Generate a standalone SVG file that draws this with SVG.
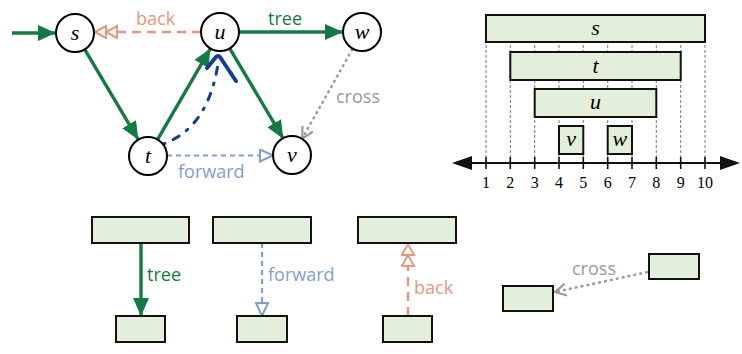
<svg xmlns="http://www.w3.org/2000/svg" width="742" height="354" viewBox="0 0 742 354">
<style>
.node circle{fill:#fff;stroke:#000;stroke-width:2}
.nl{font-family:"Liberation Serif","DejaVu Serif",serif;font-style:italic;font-size:22px;text-anchor:middle}
.lab{font-family:"Open Sans","Noto Sans",sans-serif;font-size:18px}
.tree{stroke:#147a45;stroke-width:3.4;fill:none}
.back{stroke:#e8967c;stroke-width:2.4;fill:none;stroke-dasharray:9 6}
.fwd{stroke:#7f9fcf;stroke-width:2.2;fill:none;stroke-dasharray:5 4}
.cross{stroke:#9a9a9a;stroke-width:2.4;fill:none;stroke-dasharray:3 3}
.box{fill:#e3eedb;stroke:#111;stroke-width:2}
.vl{stroke:#777;stroke-width:1;stroke-dasharray:3 2}
.tk{font-family:"Liberation Serif","DejaVu Serif",serif;font-size:16px;text-anchor:middle}
</style>
<defs>
<marker id="mt" markerUnits="userSpaceOnUse" markerWidth="19" markerHeight="16" refX="18" refY="8" orient="auto"><path d="M0,0 L18,8 L0,16 z" fill="#147a45"/></marker>
<marker id="mb" markerUnits="userSpaceOnUse" markerWidth="26" markerHeight="16" refX="24" refY="7" orient="auto"><path d="M1,1 L12,7 L1,13 z M12,1 L23,7 L12,13 z" fill="#fff" stroke="#e8967c" stroke-width="2"/></marker>
<marker id="mf" markerUnits="userSpaceOnUse" markerWidth="16" markerHeight="16" refX="14" refY="7" orient="auto"><path d="M1,1 L14,7 L1,13 z" fill="#fff" stroke="#7f9fcf" stroke-width="2"/></marker>
<marker id="mc" markerUnits="userSpaceOnUse" markerWidth="16" markerHeight="16" refX="12" refY="7" orient="auto"><path d="M1,1 L12,7 L1,13" fill="none" stroke="#9a9a9a" stroke-width="2.2"/></marker>
</defs>

<g id="connectors">
<line class="tree" x1="12" y1="33" x2="56" y2="33" marker-end="url(#mt)"/>
<line class="back" x1="201" y1="32" x2="94" y2="32" marker-end="url(#mb)"/>
<line class="tree" x1="239" y1="32" x2="343" y2="32" marker-end="url(#mt)"/>
<line class="tree" x1="84.7" y1="49.3" x2="138.3" y2="139.7" marker-end="url(#mt)"/>
<line class="tree" x1="157.5" y1="139.6" x2="210.5" y2="48.4" marker-end="url(#mt)"/>
<line class="tree" x1="229.7" y1="48.3" x2="283.3" y2="138.7" marker-end="url(#mt)"/>
<line class="cross" x1="352.7" y1="48.6" x2="302.3" y2="138.4" marker-end="url(#mc)"/>
<line class="fwd" x1="167" y1="155.5" x2="273" y2="155.5" marker-end="url(#mf)"/>
<path d="M163,144 Q208,128 218,64" fill="none" stroke="#123f8f" stroke-width="3" stroke-linecap="round" stroke-dasharray="2 9 7 9"/>
<path d="M207,68 L216,57 Q218,55 220,57 L236,81" fill="none" stroke="#123f8f" stroke-width="4" stroke-linecap="round" stroke-linejoin="round"/>
<text class="lab" x="136" y="25" fill="#e8967c">back</text>
<text class="lab" x="268" y="25" fill="#147a45">tree</text>
<text class="lab" x="336" y="103" fill="#9a9a9a">cross</text>
<text class="lab" x="178" y="178" fill="#7f9fcf">forward</text>

<line class="tree" x1="141" y1="243" x2="141" y2="316" marker-end="url(#mt)"/>
<text class="lab" x="147" y="281" fill="#147a45">tree</text>
<line class="fwd" x1="262" y1="243" x2="262" y2="316" marker-end="url(#mf)"/>
<text class="lab" x="268" y="281" fill="#7f9fcf">forward</text>
<line class="back" x1="408" y1="316" x2="408" y2="243" marker-end="url(#mb)"/>
<text class="lab" x="414" y="294" fill="#e8967c">back</text>
<line class="cross" x1="648" y1="272" x2="555" y2="292" marker-end="url(#mc)"/>
<text class="lab" x="572" y="275" fill="#9a9a9a">cross</text>
</g>

<g id="node-s" class="node"><circle cx="75" cy="33" r="19"/><text class="nl" x="75" y="40">s</text></g>
<g id="node-u" class="node"><circle cx="220" cy="32" r="19"/><text class="nl" x="220" y="39">u</text></g>
<g id="node-w" class="node"><circle cx="362" cy="32" r="19"/><text class="nl" x="362" y="39">w</text></g>
<g id="node-t" class="node"><circle cx="148" cy="156" r="19"/><text class="nl" x="148" y="163">t</text></g>
<g id="node-v" class="node"><circle cx="292" cy="155" r="19"/><text class="nl" x="292" y="162">v</text></g>

<g id="intervals">
<g id="guides">
<line class="vl" x1="486" y1="15" x2="486" y2="163"/>
<line class="vl" x1="510.3" y1="15" x2="510.3" y2="163"/>
<line class="vl" x1="534.7" y1="15" x2="534.7" y2="163"/>
<line class="vl" x1="559" y1="15" x2="559" y2="163"/>
<line class="vl" x1="583.3" y1="15" x2="583.3" y2="163"/>
<line class="vl" x1="607.7" y1="15" x2="607.7" y2="163"/>
<line class="vl" x1="632" y1="15" x2="632" y2="163"/>
<line class="vl" x1="656.3" y1="15" x2="656.3" y2="163"/>
<line class="vl" x1="680.7" y1="15" x2="680.7" y2="163"/>
<line class="vl" x1="705" y1="15" x2="705" y2="163"/>
</g>
<g id="int-s"><rect class="box" x="486" y="15" width="219" height="27"/><text class="nl" x="595.5" y="35">s</text></g>
<g id="int-t"><rect class="box" x="510.3" y="52" width="170.4" height="28"/><text class="nl" x="595.5" y="73">t</text></g>
<g id="int-u"><rect class="box" x="534.7" y="89" width="121.6" height="28"/><text class="nl" x="595.5" y="109">u</text></g>
<g id="int-v"><rect class="box" x="559" y="126" width="24.3" height="28"/><text class="nl" x="571.2" y="146">v</text></g>
<g id="int-w"><rect class="box" x="607.7" y="126" width="24.3" height="28"/><text class="nl" x="619.8" y="146">w</text></g>
<g id="axis">
<line x1="470" y1="163" x2="720" y2="163" stroke="#111" stroke-width="2.2"/>
<path d="M452,163 L472,156 L472,170 z" fill="#111"/>
<path d="M740,163 L720,156 L720,170 z" fill="#111"/>
<g stroke="#111" stroke-width="1.6">
<line x1="486" y1="157" x2="486" y2="169"/>
<line x1="510.3" y1="157" x2="510.3" y2="169"/>
<line x1="534.7" y1="157" x2="534.7" y2="169"/>
<line x1="559" y1="157" x2="559" y2="169"/>
<line x1="583.3" y1="157" x2="583.3" y2="169"/>
<line x1="607.7" y1="157" x2="607.7" y2="169"/>
<line x1="632" y1="157" x2="632" y2="169"/>
<line x1="656.3" y1="157" x2="656.3" y2="169"/>
<line x1="680.7" y1="157" x2="680.7" y2="169"/>
<line x1="705" y1="157" x2="705" y2="169"/>
</g>
<text class="tk" x="486" y="188">1</text>
<text class="tk" x="510.3" y="188">2</text>
<text class="tk" x="534.7" y="188">3</text>
<text class="tk" x="559" y="188">4</text>
<text class="tk" x="583.3" y="188">5</text>
<text class="tk" x="607.7" y="188">6</text>
<text class="tk" x="632" y="188">7</text>
<text class="tk" x="656.3" y="188">8</text>
<text class="tk" x="680.7" y="188">9</text>
<text class="tk" x="705" y="188">10</text>
</g>
</g>

<g id="legend-tree-top"><rect class="box" x="92" y="217" width="97" height="26"/></g>
<g id="legend-tree-bottom"><rect class="box" x="116" y="316" width="49" height="26"/></g>
<g id="legend-forward-top"><rect class="box" x="213" y="217" width="98" height="26"/></g>
<g id="legend-forward-bottom"><rect class="box" x="237" y="316" width="50" height="26"/></g>
<g id="legend-back-top"><rect class="box" x="358" y="217" width="98" height="26"/></g>
<g id="legend-back-bottom"><rect class="box" x="383" y="316" width="49" height="26"/></g>
<g id="legend-cross-from"><rect class="box" x="649" y="254" width="50" height="25"/></g>
<g id="legend-cross-to"><rect class="box" x="503" y="286" width="50" height="25"/></g>
</svg>
